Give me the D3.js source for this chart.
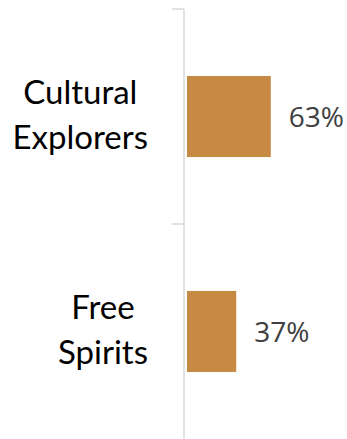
<!DOCTYPE html>
<html>
<head>
<meta charset="utf-8">
<script src="https://cdn.jsdelivr.net/npm/d3@7"></script>
<style>
  html, body { margin: 0; padding: 0; background: #fff; }
  svg { display: block; }
</style>
</head>
<body>
<svg id="chart" width="347" height="439"></svg>
<script>
var categories = ["Cultural Explorers", "Free Spirits"];
var labelLines = [["Cultural", "Explorers"], ["Free", "Spirits"]];
var values = [63, 37];
var valueLabels = ["63%", "37%"];

var W = 347, H = 439;
var axisX = 184;
var svg = d3.select("#chart");

var x = d3.scaleLinear().domain([0, 100]).range([axisX + 3, axisX + 3 + 133]);
var y = d3.scaleBand().domain(categories).range([9, 439])
    .paddingInner(0.623).paddingOuter(0.3115);

// axis line + ticks at category boundaries
var g = svg.append("g");
var step = y.step();
var bounds = [9, 9 + step, 9 + 2 * step];
g.append("line")
  .attr("x1", axisX).attr("x2", axisX)
  .attr("y1", bounds[0]).attr("y2", bounds[2])
  .attr("stroke", "#d9d9d9").attr("stroke-width", 1.5);
g.selectAll(".tk").data(bounds.slice(0, 2)).enter().append("line")
  .attr("x1", axisX - 12).attr("x2", axisX)
  .attr("y1", function(d){ return d; }).attr("y2", function(d){ return d; })
  .attr("stroke", "#d9d9d9").attr("stroke-width", 1.5);

// bars
svg.selectAll(".bar").data(values).enter().append("rect")
  .attr("x", x(0))
  .attr("y", function(d, i){ return y(categories[i]); })
  .attr("width", function(d){ return x(d) - x(0); })
  .attr("height", y.bandwidth())
  .attr("fill", "#c68a42");

// value labels
svg.selectAll(".val").data(values).enter().append("text")
  .attr("x", function(d){ return x(d) + 18; })
  .attr("y", function(d, i){ return y(categories[i]) + y.bandwidth() / 2; })
  .attr("dy", "0.36em")
  .attr("font-family", "'Open Sans', sans-serif")
  .attr("font-size", 28)
  .attr("fill", "#404040")
  .text(function(d, i){ return valueLabels[i]; });

// category labels: lines centred, widest line ending near the axis
var rightEdge = 148;
categories.forEach(function(c, i){
  var t = svg.append("text")
    .attr("font-family", "Lato, 'Open Sans', sans-serif")
    .attr("font-size", 33)
    .attr("fill", "#000");
  var lines = labelLines[i];
  var spans = lines.map(function(l){ return t.append("tspan").text(l); });
  var maxW = d3.max(spans, function(s){ return s.node().getComputedTextLength(); });
  var cx = rightEdge - maxW / 2;
  var cy = y(c) + y.bandwidth() / 2;
  var lh = 45;
  spans.forEach(function(s, j){
    s.attr("x", cx).attr("text-anchor", "middle")
     .attr("y", cy + (j - (lines.length - 1) / 2) * lh)
     .attr("dy", "0.3em");
  });
});
</script>
</body>
</html>
